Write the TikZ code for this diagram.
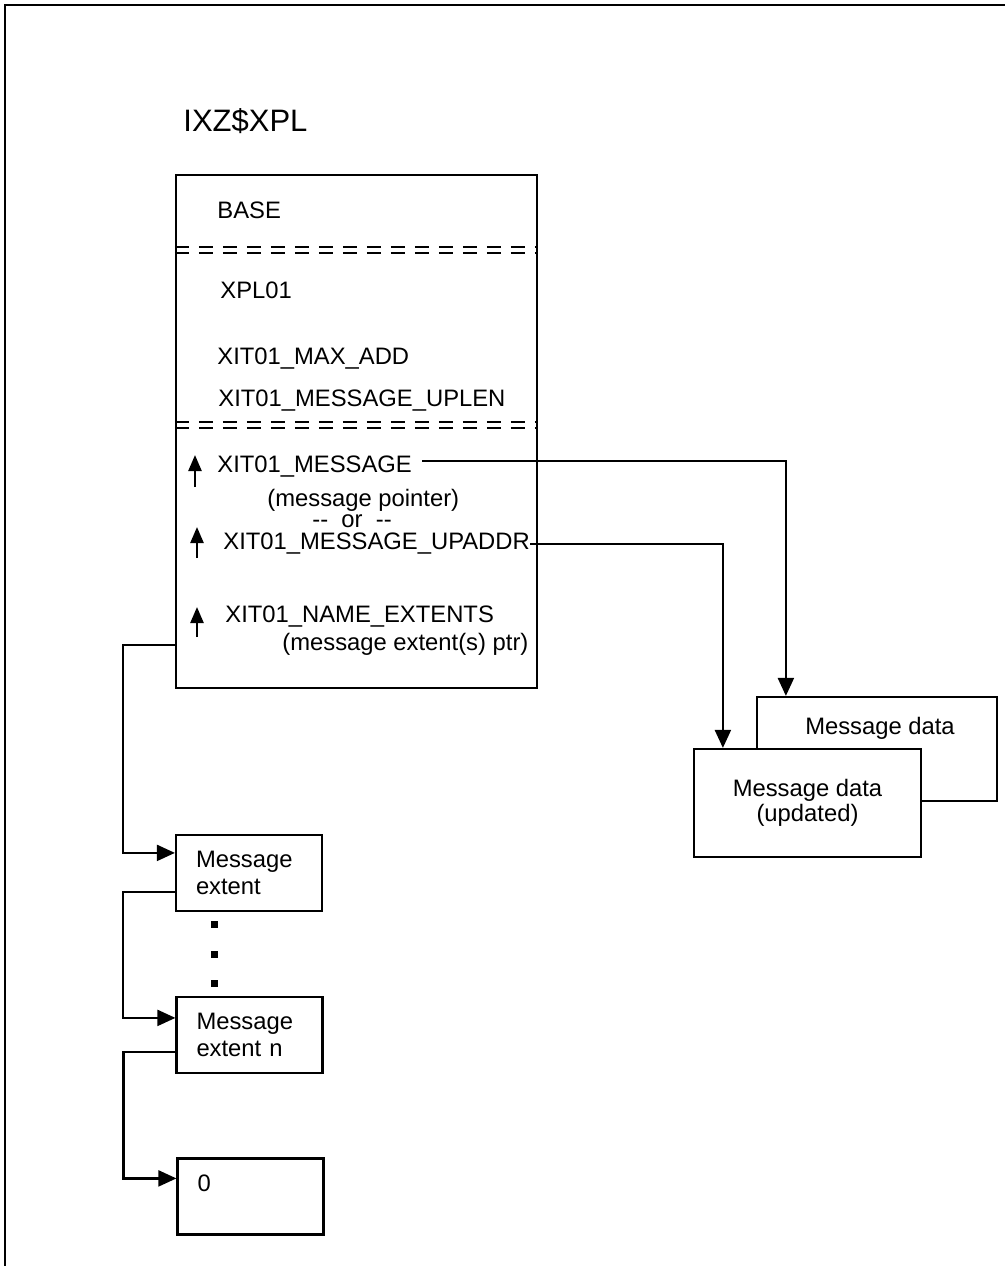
\documentclass[tikz,border=0pt]{standalone}
\usepackage{fontspec}
\setmainfont{Liberation Sans}
\usetikzlibrary{arrows.meta,calc}

\tikzset{
  box/.style={draw,line width=1.1pt,fill=white,inner sep=0pt},
  ebox/.style={box,minimum width=73pt,minimum height=38pt,text width=53pt,inner xsep=10pt,align=left},
  txt/.style={anchor=west,inner sep=0pt},
  link/.style={line width=1.1pt},
  sepline/.style={line width=1pt,dash pattern=on 7pt off 5pt},
  uparr/.style={line width=1.2pt,-{Triangle[length=8pt,width=6.5pt]}},
  dot/.style={fill,inner sep=0pt,minimum size=3.5pt},
  >={Triangle[length=9pt,width=8pt]}
}

\begin{document}
\begin{tikzpicture}[x=0.5pt,y=-0.5pt,font=\fontsize{11.9}{13.5}\selectfont]
\useasboundingbox (0,0) rectangle (1005,1266);
\draw[line width=1.3pt] (1005,5) -- (5,5) -- (5,1266);
\node[txt,font=\fontsize{15.5}{18}\selectfont] (T) at (183,121) {IXZ\$XPL};

% parameter list
\node[box,minimum width=180.5pt,minimum height=256.5pt] (X) at (356.5,431.5) {};
\draw[sepline] ($(X.north west)+(0,73)$) -- ($(X.north east)+(0,73)$);
\draw[sepline] ($(X.north west)+(0,79)$) -- ($(X.north east)+(0,79)$);
\draw[sepline] ($(X.north west)+(0,248)$) -- ($(X.north east)+(0,248)$);
\draw[sepline] ($(X.north west)+(0,254)$) -- ($(X.north east)+(0,254)$);
\node[txt] (B) at (217,210) {BASE};
\node[txt] (P) at (220,290) {XPL01};
\node[txt] (A) at (217,359) {XIT01\_MAX\_ADD};
\node[txt] (L) at (218,401) {XIT01\_MESSAGE\_UPLEN};
\node[txt] (M) at (217,467) {XIT01\_MESSAGE};
\node[txt] (Mp) at (267,500) {(message pointer)};
\node[txt] (O) at (312,521) {-{}-\ \ or\ \ -{}-};
\node[txt] (U) at (223,544) {XIT01\_MESSAGE\_UPADDR};
\node[txt] (N) at (225,617) {XIT01\_NAME\_EXTENTS};
\node[txt] (Np) at (282,644) {(message extent(s) ptr)};
\draw[uparr] ($(M.west)+(-22,20)$) -- ++(0,-32);
\draw[uparr] ($(U.west)+(-26,14)$) -- ++(0,-31);
\draw[uparr] ($(N.west)+(-28,20)$) -- ++(0,-30);

% message data
\node[box,minimum width=120pt,minimum height=52pt] (D1) at (877,749) {};
\node (D1t) at (880,728) {Message data};
\node[box,minimum width=113.5pt,minimum height=54pt,align=center,font=\fontsize{11.9}{12.5}\selectfont] (D2) at (807.5,803) {Message data\\(updated)};

% extents
\node[ebox] (E1) at (249,873) {Message\\extent};
\node[ebox] (E2) at (249.5,1035) {Message\\extent n};
\node[ebox] (E3) at (250.5,1196.5) {0\\\mbox{}};
\node[dot] (p1) at (214,924) {};
\node[dot] (p2) at (214,954) {};
\node[dot] (p3) at (214,983) {};

\draw[link,->] ([xshift=5pt,yshift=3pt]M.east) -| ($(D1.north west)+(30,0)$);
\draw[link,->] (U.east) -| ($(D2.north west)+(30,0)$);
\draw[link,->] ($(X.south west)+(0,-44)$) -- ++(-52,0) |- ($(E1.north west)+(0,19)$);
\draw[link,->] ($(E1.north west)+(0,58)$) -- ++(-52,0) |- ($(E2.north west)+(0,22)$);
\draw[link,->] ($(E2.north west)+(0,56)$) -- ++(-52,0) |- ($(E3.north west)+(0,21)$);
\end{tikzpicture}
\end{document}
